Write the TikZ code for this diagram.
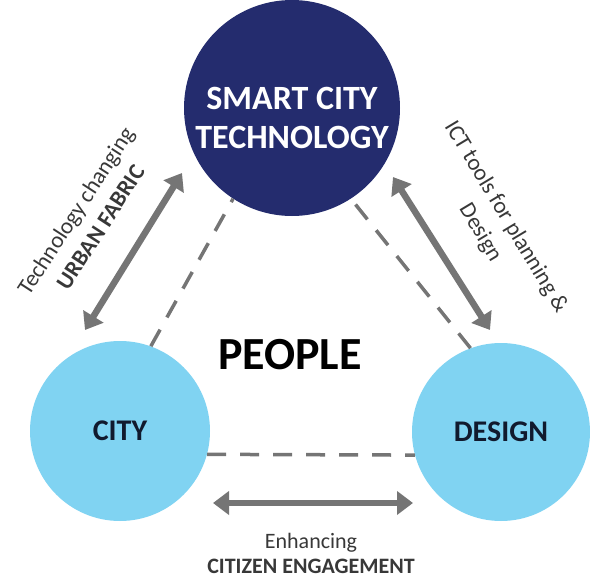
\documentclass[tikz,border=0pt]{standalone}
\usepackage{fontspec}
\setmainfont{Carlito}
\usepackage{tikz}
\usetikzlibrary{arrows.meta,positioning}
\definecolor{deepnavy}{HTML}{242C6E}
\definecolor{skyblue}{HTML}{80D3F2}
\definecolor{arrowgray}{HTML}{757575}
\definecolor{inkdark}{HTML}{111A2E}

\begin{document}
\begin{tikzpicture}[x=1pt,y=-1pt,
  hub/.style={circle, fill=deepnavy, inner sep=0pt, minimum size=216pt, align=center,
              font=\fontsize{34}{39}\selectfont\bfseries, text=white},
  spoke/.style={circle, fill=skyblue, inner sep=0pt, minimum size=180pt, align=center,
                font=\fontsize{30}{34}\selectfont\bfseries, text=inkdark},
  lbl/.style={align=center, inner sep=0pt, font=\fontsize{23}{30}\selectfont, text=black!78},
  twoway/.style={{Triangle[length=16pt,width=23pt]}-{Triangle[length=16pt,width=23pt]},
                 line width=6.5pt, draw=arrowgray},
  dsh/.style={line width=3.5pt, draw=arrowgray, dash pattern=on 19pt off 14pt}
]
  \useasboundingbox (0,0) rectangle (590,581);

  \node[hub] (tech) at (292,108) {\rule{0pt}{42pt}SMART CITY\\TECHNOLOGY};
  \node[spoke] (city) at (120,431) {CITY};
  \node[spoke,minimum size=178pt] (design) at (501,432) {DESIGN};
  \node[font=\fontsize{46}{50}\selectfont\bfseries] (people) at (290,355) {PEOPLE};

  % dashed triangle between the three circles
  \draw[dsh] (city.70) -- (tech.237);
  \draw[dsh] (design.110) -- (tech.303);
  \draw[dsh] (city.-15) -- (design.195);

  % double arrows, set off beside the dashed sides
  \coordinate (cityup)   at (85,330);
  \coordinate (techleft) at (182,173);
  \coordinate (techright) at (393,177);
  \coordinate (designup) at (490,330);
  \coordinate (cityside) at (213,503);
  \coordinate (designside) at (413,503);
  \draw[twoway] (cityup) -- (techleft);
  \draw[twoway] (techright) -- (designup);
  \draw[twoway] (cityside) -- (designside);

  \node[lbl,rotate=57] (urban) at (88,219) {Technology changing\\\textbf{URBAN FABRIC}};
  \node[lbl,rotate=-59] (ict) at (493,225) {ICT tools for planning \&\\Design};
  \node[lbl,font=\fontsize{22}{25}\selectfont] (engage) at (311,553) {Enhancing\\\textbf{CITIZEN ENGAGEMENT}};
\end{tikzpicture}
\end{document}
